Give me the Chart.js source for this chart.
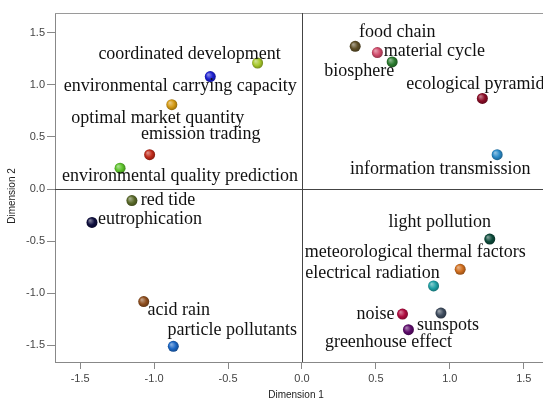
<!DOCTYPE html>
<html>
<head>
<meta charset="utf-8">
<script src="https://cdn.jsdelivr.net/npm/chart.js@4.4.1/dist/chart.umd.min.js"></script>
<style>
  html, body { margin: 0; padding: 0; background: #fff; }
  #wrap { width: 543px; height: 401px; }
</style>
</head>
<body>
<div id="wrap"><canvas id="chart"></canvas></div>
<script>
// terms and their coordinates on the two dimensions
const terms = [
  "coordinated development", "environmental carrying capacity", "optimal market quantity",
  "emission trading", "environmental quality prediction", "red tide", "eutrophication",
  "acid rain", "particle pollutants", "food chain", "material cycle", "biosphere",
  "ecological pyramid", "information transmission", "light pollution",
  "meteorological thermal factors", "electrical radiation", "noise", "sunspots",
  "greenhouse effect"
];
const dim1 = [-0.30, -0.62, -0.88, -1.03, -1.23, -1.15, -1.42, -1.07, -0.87, 0.36,
  0.51, 0.61, 1.22, 1.32, 1.27, 1.07, 0.89, 0.68, 0.94, 0.72];
const dim2 = [1.21, 1.08, 0.81, 0.33, 0.20, -0.11, -0.32, -1.08, -1.51, 1.37,
  1.31, 1.22, 0.87, 0.33, -0.48, -0.77, -0.93, -1.20, -1.19, -1.35];
const pointColors = [
  "#a6c72a", "#1c1fd0", "#d49a14", "#c02a1a", "#5cc22a", "#5a6a2a", "#0e0e3e",
  "#8e4e1e", "#1a66c4", "#5e4e26", "#d04a6a", "#2a7a2e", "#8a0c26", "#2a8ac8",
  "#0c4a3a", "#d06e1e", "#1ea0a4", "#b00c40", "#3e4c5e", "#5c0a6a"
];
const xTicks = [-1.5, -1.0, -0.5, 0.0, 0.5, 1.0, 1.5];
const yTicks = [-1.5, -1.0, -0.5, 0.0, 0.5, 1.0, 1.5];

// where each label's centre sits relative to its point (px)
const labelOffsets = [
  [-68, -9], [-30, 10], [-14, 14], [51, -20], [60, 8], [36, 0], [58, -3],
  [35, 9], [59, -16], [42, -14], [57, -1], [-33, 9], [-7, -14], [-57, 15],
  [-50, -17], [-45, -17], [-61, -13], [-27, 0], [7, 12], [-20, 13]
];

function shade(hex, f) {
  const n = parseInt(hex.slice(1), 16);
  let r = n >> 16, g = (n >> 8) & 255, b = n & 255;
  if (f > 0) { r += (255 - r) * f; g += (255 - g) * f; b += (255 - b) * f; }
  else { r *= 1 + f; g *= 1 + f; b *= 1 + f; }
  return `rgb(${Math.round(r)},${Math.round(g)},${Math.round(b)})`;
}

function ballColor(ctx) {
  const base = pointColors[ctx.dataIndex];
  const s = ctx.chart.scales;
  if (!ctx.parsed || !s.x || !s.y || !ctx.chart.chartArea) return base;
  const x = s.x.getPixelForValue(ctx.parsed.x);
  const y = s.y.getPixelForValue(ctx.parsed.y);
  const g = ctx.chart.ctx.createRadialGradient(x - 2, y - 2, 0.5, x, y, 6);
  g.addColorStop(0, shade(base, 0.45));
  g.addColorStop(0.55, base);
  g.addColorStop(1, shade(base, -0.35));
  return g;
}

const frameLines = {
  id: "frameLines",
  beforeDatasetsDraw(chart) {
    const { ctx, chartArea: a, scales } = chart;
    ctx.save();
    ctx.lineWidth = 1;
    ctx.strokeStyle = "#9a9a9a";
    ctx.beginPath();
    ctx.moveTo(a.left, a.top + 0.5);
    ctx.lineTo(a.right, a.top + 0.5);
    ctx.stroke();
    ctx.strokeStyle = "#444";
    const x0 = Math.round(scales.x.getPixelForValue(0)) + 0.5;
    const y0 = Math.round(scales.y.getPixelForValue(0)) + 0.5;
    ctx.beginPath();
    ctx.moveTo(x0, a.top);
    ctx.lineTo(x0, a.bottom);
    ctx.moveTo(a.left, y0);
    ctx.lineTo(a.right, y0);
    ctx.stroke();
    ctx.restore();
  }
};

const pointLabels = {
  id: "pointLabels",
  afterDatasetsDraw(chart) {
    const { ctx } = chart;
    const meta = chart.getDatasetMeta(0);
    ctx.save();
    ctx.font = '18px "Liberation Serif", "Times New Roman", serif';
    ctx.fillStyle = "#111";
    ctx.textAlign = "center";
    ctx.textBaseline = "middle";
    meta.data.forEach((pt, i) => {
      const [dx, dy] = labelOffsets[i];
      ctx.fillText(terms[i], pt.x + dx, pt.y + dy);
    });
    ctx.restore();
  }
};

const axisTitles = {
  id: "axisTitles",
  afterDraw(chart) {
    const { ctx } = chart;
    ctx.save();
    ctx.font = '10px "Liberation Sans", Arial, sans-serif';
    ctx.fillStyle = "#222";
    ctx.textAlign = "center";
    ctx.textBaseline = "middle";
    ctx.fillText("Dimension 1", 296, 395);
    ctx.translate(12, 196);
    ctx.rotate(-Math.PI / 2);
    ctx.fillText("Dimension 2", 0, 0);
    ctx.restore();
  }
};

const tickFont = { family: '"Liberation Sans", Arial, sans-serif', size: 11 };

new Chart(document.getElementById("chart"), {
  type: "scatter",
  data: {
    datasets: [{
      data: dim1.map((x, i) => ({ x, y: dim2[i] })),
      backgroundColor: ballColor,
      borderWidth: 0,
      pointRadius: 5.5,
      pointHoverRadius: 5.5,
      clip: false
    }]
  },
  options: {
    responsive: true,
    maintainAspectRatio: false,
    animation: false,
    layout: { autoPadding: false, padding: { top: 13, right: 0, left: 0, bottom: 0 } },
    plugins: { legend: { display: false }, tooltip: { enabled: false } },
    scales: {
      x: {
        type: "linear",
        min: -1.67,
        max: 1.63,
        afterBuildTicks: (s) => { s.ticks = xTicks.map((v) => ({ value: v })); },
        afterFit: (s) => { s.height = 39; s.paddingLeft = 0; s.paddingRight = 0; },
        ticks: { callback: (v) => v.toFixed(1), font: tickFont, color: "#444", padding: 3, maxRotation: 0 },
        grid: { drawOnChartArea: false, drawTicks: true, tickLength: 7, color: "#888" },
        border: { display: true, color: "#888" }
      },
      y: {
        type: "linear",
        min: -1.66,
        max: 1.69,
        afterBuildTicks: (s) => { s.ticks = yTicks.map((v) => ({ value: v })); },
        afterFit: (s) => { s.width = 55; s.paddingTop = 0; s.paddingBottom = 0; },
        ticks: { callback: (v) => v.toFixed(1), font: tickFont, color: "#444", padding: 2 },
        grid: { drawOnChartArea: false, drawTicks: true, tickLength: 8, color: "#888" },
        border: { display: true, color: "#888" }
      }
    }
  },
  plugins: [frameLines, pointLabels, axisTitles]
});
</script>
</body>
</html>
